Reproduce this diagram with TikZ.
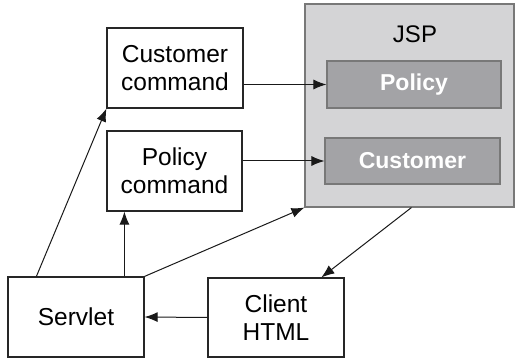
\documentclass[tikz,border=0pt]{standalone}
\usepackage{fontspec}
\setmainfont{Liberation Sans}
\usetikzlibrary{arrows.meta,calc}
\definecolor{jspfill}{RGB}{212,212,214}
\definecolor{innerfill}{RGB}{163,163,166}
\definecolor{jspdraw}{RGB}{120,120,120}
\begin{document}
\begin{tikzpicture}[x=1pt,y=-1pt,
  box/.style={draw=black!85,line width=1.2pt,fill=white,align=center,inner sep=0pt,
    font=\fontsize{24.5}{28}\selectfont},
  inner/.style={draw=jspdraw,line width=1.1pt,fill=innerfill,text=white,inner sep=0pt,
    font=\fontsize{23}{26}\selectfont\bfseries},
  arr/.style={-{Latex[length=13pt,width=10pt]},line width=1pt,black!90}]
\useasboundingbox (0,0) rectangle (515,358);
\node[draw=jspdraw,line width=1.1pt,fill=jspfill,minimum width=209pt,minimum height=203pt,inner sep=0pt] (jsp) at (409.5,105.5) {};
\node[font=\fontsize{24}{28}\selectfont] (jsplabel) at (415,34) {JSP};
\node[inner,minimum width=174pt,minimum height=47pt] (pol) at (414,84.5) {Policy};
\node[inner,minimum width=175pt,minimum height=46pt] (cu) at (412.5,161) {Customer};
\node[box,minimum width=136pt,minimum height=80pt] (cc) at (175,68) {Customer\\command};
\node[box,minimum width=135pt,minimum height=80pt] (pc) at (174.5,171) {Policy\\command};
\node[box,minimum width=136pt,minimum height=80pt] (srv) at (76,317) {Servlet};
\node[box,minimum width=136pt,minimum height=79pt] (cl) at (276,317.5) {Client\\HTML};
\coordinate (s1) at ($(srv.north west)+(29,0)$);
\coordinate (s2) at ($(srv.north west)+(117,0)$);
\coordinate (j1) at ($(jsp.south west)+(107,0)$);
\coordinate (c1) at ($(cl.north west)+(114,0)$);
\draw[arr] (s1) -- (cc.south west);
\draw[arr] (s2) -- (s2 |- pc.south);
\draw[arr] (srv.north east) -- (jsp.south west);
\draw[arr] (j1) -- (c1);
\draw[arr] (cl.west) -- (srv.east);
\draw[arr] (cc.east |- pol.west) -- (pol.west);
\draw[arr] (pc.east |- cu.west) -- (cu.west);
\end{tikzpicture}
\end{document}
